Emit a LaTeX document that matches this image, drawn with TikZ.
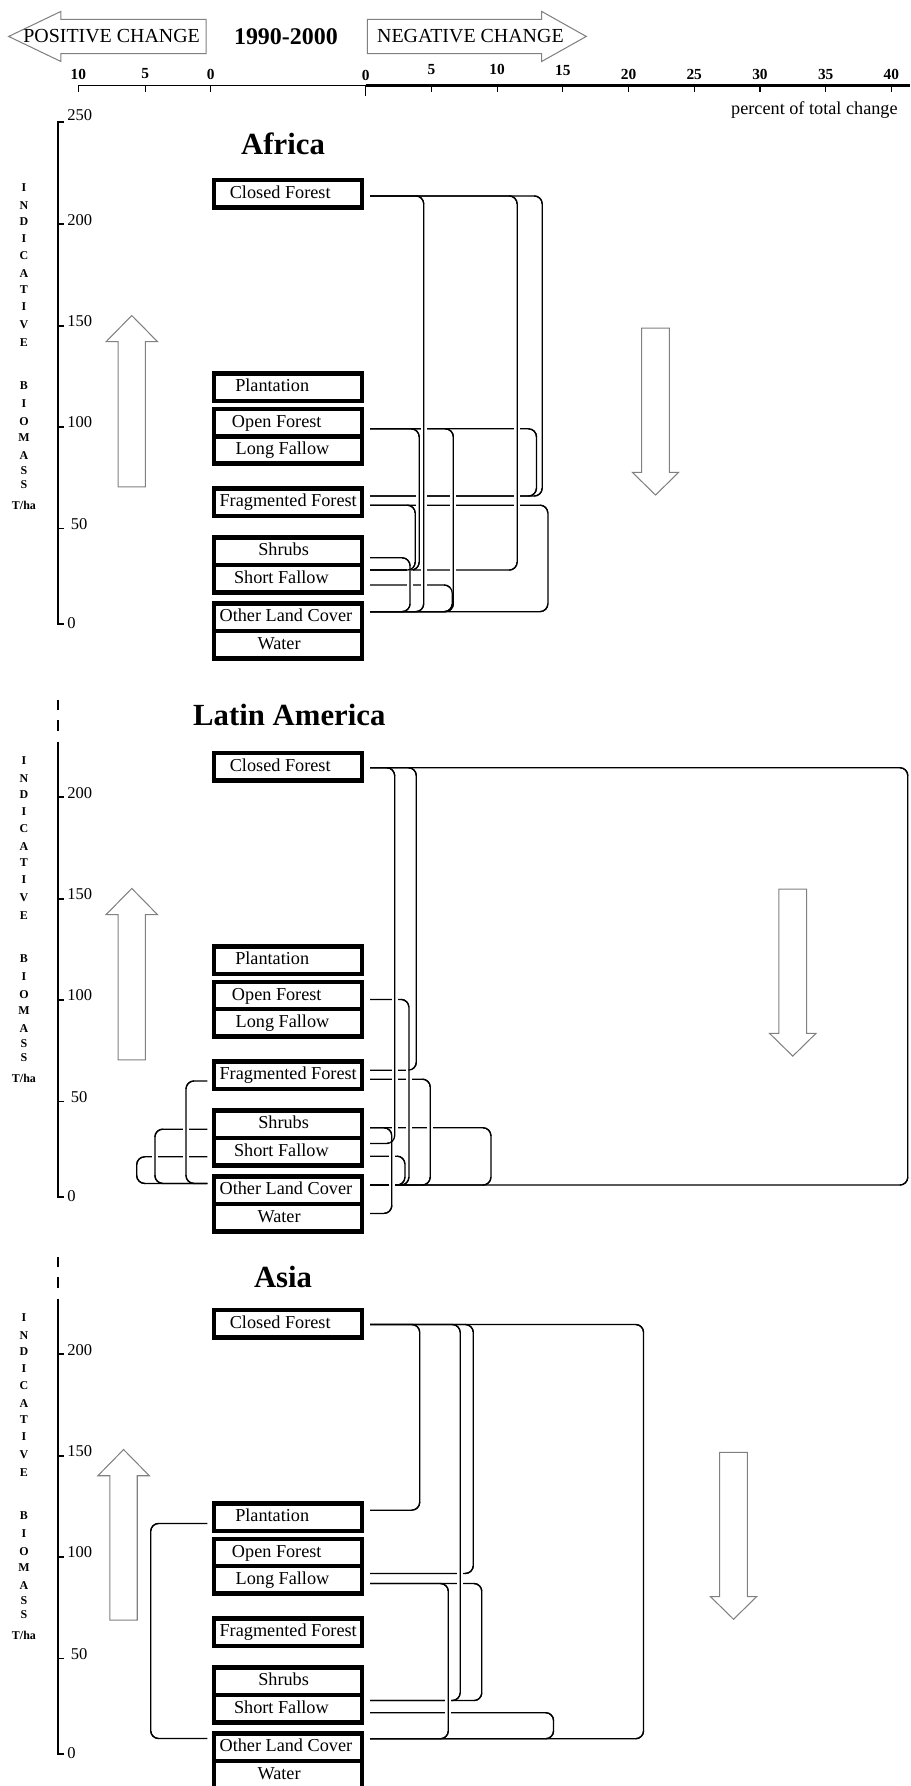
\documentclass[tikz,border=0pt]{standalone}
\usepackage{fontspec}
\setmainfont{Liberation Serif}
\usetikzlibrary{calc}
\definecolor{arrowgray}{RGB}{128,128,128}
\newcommand\panelboxes[2]{%
  \node[box] (#1-cf) at (253,170+#2) {\hspace*{-14pt}Closed Forest};
  \node[box] (#1-pl) at (253,340+#2) {\hspace*{-28pt}Plantation};
  \node[box] (#1-of) at (253,371+#2) {\hspace*{-20pt}Open Forest};
  \node[box] (#1-lf) at (253,395+#2) {\hspace*{-10pt}Long Fallow};
  \node[box] (#1-ff) at (253,441+#2) {Fragmented Forest};
  \node[box] (#1-sh) at (253,484+#2) {\hspace*{-8pt}Shrubs};
  \node[box] (#1-sf) at (253,508+#2) {\hspace*{-12pt}Short Fallow};
  \node[box] (#1-olc) at (253,542+#2) {\hspace*{-4pt}Other Land Cover};
  \node[box] (#1-w) at (253,566+#2) {\hspace*{-16pt}Water};
}
\newcommand\vletters[2]{%
  \foreach \l/\yy [count=\i] in {I/164.6,N/180.3,D/194.4,I/209.5,C/224.3,A/239.9,T/254,I/269,V/285.4,E/301,B/338.7,I/354.4,O/370,M/384.2,A/399.8,S/413.5,S/425.5}
    \node[vlet] (#1-l\i) at (21,\yy+#2) {\l};
  \node[vlet] (#1-tha) at (21,443.7+#2) {T/ha};
}
\newcommand\darrowshape[2]{%
  \draw[hollow] (#1-12.15,#2) -- (#1+12.15,#2) -- (#1+12.15,#2+126.7) -- (#1+20.3,#2+126.7)
    -- (#1,#2+146.6) -- (#1-20.3,#2+126.7) -- (#1-12.15,#2+126.7) -- cycle;
}
\newcommand\uarrowshape[3]{%
  \draw[hollow] (#1,#2) -- (#1+22.6,#2+23) -- (#1+12,#2+23) -- (#1+12,#3) -- (#1-12,#3)
    -- (#1-12,#2+23) -- (#1-22.6,#2+23) -- cycle;
}
\begin{document}
\begin{tikzpicture}[x=1pt,y=-1pt,
  box/.style={draw, line width=4pt, minimum width=130pt, minimum height=24pt,
    inner sep=0pt, outer sep=2pt, text height=11pt, text depth=3pt,
    font=\fontsize{16}{18}\selectfont},
  conn/.style={line width=1.1pt, rounded corners=7pt},
  halo/.style={white, line width=5pt},
  hollow/.style={draw=arrowgray, line width=0.9pt, fill=white},
  hdr/.style={font=\fontsize{17.5}{20}\selectfont, inner sep=0pt},
  title/.style={font=\fontsize{27}{30}\selectfont\bfseries},
  ticklab/.style={font=\fontsize{13.5}{15}\selectfont\bfseries, inner sep=0pt},
  axlab/.style={font=\fontsize{14.5}{16}\selectfont, anchor=west, inner sep=0pt},
  vlet/.style={font=\fontsize{10.5}{12}\selectfont\bfseries, inner sep=0pt},
  axisline/.style={line width=1.6pt},
]
\useasboundingbox (0,0) rectangle (799,1568);
\fill[white] (0,0) rectangle (799,1568);

% ---------- header ----------
\draw[hollow] (7.6,32) -- (53.5,10) -- (53.5,17) -- (181,17) -- (181,47) -- (53.5,47) -- (53.5,54) -- cycle;
\node[hdr] (poschg) at (98,32) {POSITIVE CHANGE};
\node[font=\fontsize{21}{24}\selectfont\bfseries] (years) at (251,32) {1990-2000};
\draw[hollow] (322.6,17) -- (475.5,17) -- (475.5,10) -- (514.7,32) -- (475.5,54) -- (475.5,47) -- (322.6,47) -- cycle;
\node[hdr] (negchg) at (413,32) {NEGATIVE CHANGE};

\draw[line width=1.1pt] (68.8,75) -- (321,75);
\draw[line width=2.2pt] (321,75) -- (799,75);
\foreach \x/\t [count=\i] in {68.8/10,127.4/5,185/0} {
  \draw[line width=1pt] (\x,75) -- (\x,81);
  \node[ticklab] (pl\i) at (\x,65) {\t};
}
\draw[line width=1pt] (321,75) -- (321,84);
\node[ticklab] (nl0) at (321,66) {0};
\foreach \x/\t/\yy [count=\i] in {378.7/5/61,436.4/10/61,494.1/15/62,551.8/20/65,609.5/25/65,667.2/30/65,724.9/35/65,782.6/40/65} {
  \draw[line width=1pt] (\x,75) -- (\x,81);
  \node[ticklab] (nl\i) at (\x,\yy) {\t};
}
\node[font=\fontsize{16}{18}\selectfont] (pct) at (715,97) {percent of total change};

% ---------- left axes ----------
\draw[axisline] (56,107) -- (51,107) -- (51,548) -- (56,548);
\foreach \yy in {197,286,375,464} \draw[axisline] (51,\yy) -- (56,\yy);
\node[axlab] (af-a250) at (59,101) {250};
\node[axlab] (af-a200) at (59,193) {200};
\node[axlab] (af-a150) at (59,282) {150};
\node[axlab] (af-a100) at (59,371) {100};
\node[axlab] (af-a50) at (62,460) {50};
\node[axlab] (af-a0) at (59,547) {0};

\draw[axisline] (51,614.6) -- (51,623.4);
\draw[axisline] (51,632.2) -- (51,641.4);
\draw[axisline] (51,651) -- (51,1051) -- (56,1051);
\foreach \yy in {700,789,878,967} \draw[axisline] (51,\yy) -- (56,\yy);
\node[axlab] (la-a200) at (59,696) {200};
\node[axlab] (la-a150) at (59,785) {150};
\node[axlab] (la-a100) at (59,874) {100};
\node[axlab] (la-a50) at (62,963) {50};
\node[axlab] (la-a0) at (59,1050) {0};

\draw[axisline] (51,1103.6) -- (51,1112.4);
\draw[axisline] (51,1121.2) -- (51,1130.4);
\draw[axisline] (51,1140) -- (51,1540) -- (56,1540);
\foreach \yy in {1189,1278,1367,1456} \draw[axisline] (51,\yy) -- (56,\yy);
\node[axlab] (as-a200) at (59,1185) {200};
\node[axlab] (as-a150) at (59,1274) {150};
\node[axlab] (as-a100) at (59,1363) {100};
\node[axlab] (as-a50) at (62,1452) {50};
\node[axlab] (as-a0) at (59,1539) {0};

\vletters{af}{0}
\vletters{la}{503}
\vletters{as}{992}

% ---------- hollow arrows ----------
\uarrowshape{115.7}{277}{427.4}
\uarrowshape{115.7}{780}{930.4}
\uarrowshape{108.5}{1272.6}{1422.4}
\darrowshape{575.5}{288}
\darrowshape{696}{780.6}
\darrowshape{644}{1275}

% ---------- titles ----------
\node[title] (af-title) at (248.5,126) {Africa};
\node[title] (la-title) at (254,628) {Latin America};
\node[title] (as-title) at (248.5,1121) {Asia};

% ---------- boxes ----------
\panelboxes{af}{0}
\panelboxes{la}{503}
\panelboxes{as}{992}

% ---------- connectors ----------
\def\eastlist{af-cf/2/af-olc/-5/47, af-cf/2/af-sf/-7.5/129, af-cf/2/af-ff/-5.5/151,
  af-of/5.5/af-ff/-5.5/146, af-of/5.5/af-sf/-7.5/43, af-of/5.5/af-olc/-5/73,
  af-ff/2.5/af-olc/-5/156, af-ff/2.5/af-sf/-7.5/39.5, af-sh/5.7/af-olc/-5/35,
  af-sf/5.6/af-olc/-5/72,
  la-cf/1/la-olc/-4.6/472, la-cf/1/la-sf/-7.1/21.5, la-cf/1/la-ff/-4.5/40.5,
  la-of/3.4/la-olc/-4.6/34, la-ff/3.4/la-olc/-4.6/52.7, la-sh/3.1/la-olc/-4.6/106,
  la-sh/3.1/la-w/-3.7/19, la-sf/4/la-olc/-4.6/30.5,
  as-cf/0.8/as-pl/-6.2/43.5, as-cf/0.8/as-sf/-7/79, as-cf/0.8/as-lf/-5.6/90.5,
  as-cf/0.8/as-olc/-7.5/240, as-lf/3.2/as-olc/-7.5/68.6, as-lf/3.2/as-sf/-7/98,
  as-sf/3.6/as-olc/-7.5/161}
\def\westlist{la-ff/5/la-olc/-6/-18.7, la-sh/4.3/la-olc/-6/-46, la-sf/4.6/la-olc/-6/-62,
  as-pl/5.5/as-olc/-7.7/-49.7}

% pass 1: full brackets
\foreach \a/\ay/\b/\by/\d in \eastlist
  \draw[conn] ($(\a.east)+(5,\ay)$) -- ++(\d,0) |- ($(\b.east)+(5,\by)$);
\foreach \a/\ay/\b/\by/\d in \westlist
  \draw[conn] ($(\a.west)+(-4,\ay)$) -- ++(\d,0) |- ($(\b.west)+(-4,\by)$);
% pass 2: white gaps where the vertical runs cross other lines
\foreach \a/\ay/\b/\by/\d in \eastlist
  \draw[halo] ($(\a.east)+(5+\d,\ay+7)$) -- ($(\b.east)+(5+\d,\by-7)$);
\foreach \a/\ay/\b/\by/\d in \westlist
  \draw[halo] ($(\a.west)+(-4+\d,\ay+7)$) -- ($(\b.west)+(-4+\d,\by-7)$);
% pass 3: redraw the vertical runs and their corners
\foreach \a/\ay/\b/\by/\d in \eastlist
  \draw[conn] ($(\a.east)+(5+\d-7,\ay)$) -- ++(7,0) |- ($(\b.east)+(5+\d-7,\by)$);
\foreach \a/\ay/\b/\by/\d in \westlist
  \draw[conn] ($(\a.west)+(-4+\d+7,\ay)$) -- ++(-7,0) |- ($(\b.west)+(-4+\d+7,\by)$);
\end{tikzpicture}
\end{document}
